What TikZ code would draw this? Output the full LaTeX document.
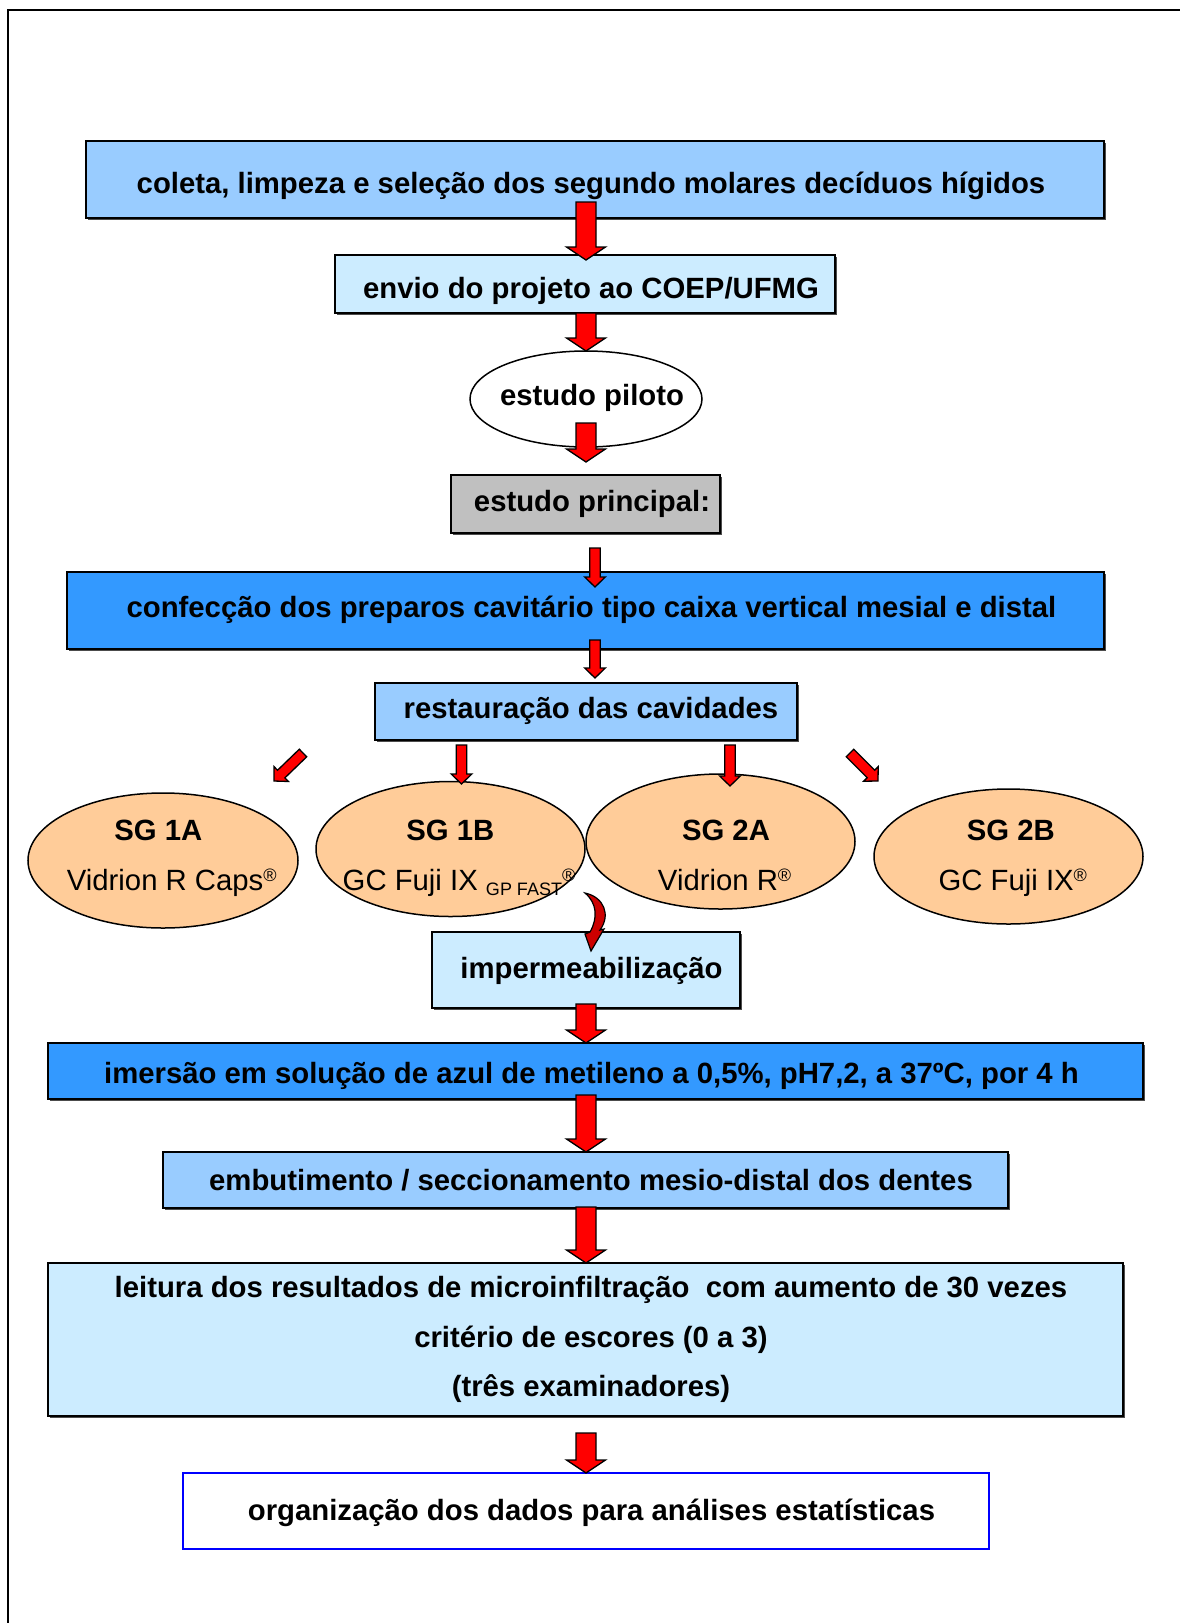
\documentclass[tikz,border=0pt]{standalone}
\usepackage{fontspec}
\setmainfont{Liberation Sans}
\usetikzlibrary{calc,shapes.geometric,shadows}
\definecolor{lblue}{HTML}{99CCFF}
\definecolor{pblue}{HTML}{CCECFF}
\definecolor{mblue}{HTML}{3399FF}
\definecolor{peach}{HTML}{FFCC99}
\definecolor{lgray}{HTML}{C0C0C0}
\definecolor{dred}{HTML}{CC0000}
\definecolor{pureblue}{HTML}{0000FF}
\newcommand\regmark{\raisebox{9pt}{\fontsize{18}{18}\selectfont ®}}
\newcommand\subfast{\raisebox{-5pt}{\fontsize{18}{18}\selectfont GP FAST}}
% block arrow: #1 start, #2 tip, #3 half shaft, #4 half head, #5 head length
\newcommand\blockarrow[5]{%
  \coordinate (bac) at ($(#2)!#5!(#1)$);
  \filldraw[arrowbody] ($(#1)!#3!90:(#2)$) -- ($(bac)!#3!90:(#2)$) -- ($(bac)!#4!90:(#2)$) -- (#2)
    -- ($(bac)!#4!-90:(#2)$) -- ($(bac)!#3!-90:(#2)$) -- ($(#1)!#3!-90:(#2)$) -- cycle;}
\newcommand\widearrow[2]{\blockarrow{#1}{#2}{10pt}{19.5pt}{13pt}}
\newcommand\thinarrow[2]{\blockarrow{#1}{#2}{5.3pt}{10.3pt}{10pt}}
\begin{document}
\begin{tikzpicture}[x=1pt,y=-1pt,
  box/.style={draw=black, line width=1.5pt, rectangle, inner sep=0pt, outer sep=0pt,
    drop shadow={shadow xshift=1.5pt, shadow yshift=-1.5pt, fill=black!70, opacity=1}},
  boxtext/.style={font=\fontsize{29.3}{49.5}\selectfont\bfseries, align=center, inner sep=0pt},
  oval/.style={draw=black, line width=1.5pt, ellipse, inner sep=0pt, outer sep=0pt},
  eltxt/.style={font=\fontsize{29.3}{35}\selectfont, anchor=base, inner sep=0pt},
  arrowbody/.style={fill=red, draw=black, line width=1.3pt, line join=miter}
]
\useasboundingbox (0,0) rectangle (1180,1623);
\draw[line width=1.5pt] (8,1623) -- (8,10) -- (1180,10);

% boxes
\node[box, fill=lblue, minimum width=1018pt, minimum height=77pt,
  label={[boxtext, xshift=-4pt, yshift=-6pt]center:{coleta, limpeza e seleção dos segundo molares decíduos hígidos}}] (b1) at (595,179.5) {};
\node[box, fill=pblue, minimum width=500pt, minimum height=58pt,
  label={[boxtext, xshift=6pt, yshift=-7pt]center:{envio do projeto ao COEP/UFMG}}] (b2) at (585,284) {};
\node[oval, fill=white, minimum width=232pt, minimum height=96pt,
  label={[boxtext, xshift=6pt, yshift=1pt]center:{estudo piloto}}] (pil) at (586,399) {};
\node[box, fill=lgray, minimum width=269pt, minimum height=58pt,
  label={[boxtext, xshift=6.5pt]center:{estudo principal:}}] (princ) at (585.5,504) {};
\node[box, fill=mblue, minimum width=1037pt, minimum height=77pt,
  label={[boxtext, xshift=6pt, yshift=1pt]center:{confecção dos preparos cavitário tipo caixa vertical mesial e distal}}] (conf) at (585.5,610.5) {};
\node[box, fill=lblue, minimum width=422pt, minimum height=57pt,
  label={[boxtext, xshift=5pt, yshift=1pt]center:{restauração das cavidades}}] (rest) at (586,711.5) {};

% ellipses
\node[oval, fill=peach, minimum width=270pt, minimum height=135pt] (sg1a) at (163,860.5) {};
\node[oval, fill=peach, minimum width=269pt, minimum height=135pt] (sg1b) at (450.5,849) {};
\node[oval, fill=peach, minimum width=269pt, minimum height=135pt] (sg2a) at (720.5,841.5) {};
\node[oval, fill=peach, minimum width=269pt, minimum height=135pt] (sg2b) at (1008.5,856.5) {};
\node[eltxt, font=\fontsize{29.3}{35}\selectfont\bfseries] (sg1a-t) at (158.4,840) {SG 1A};
\node[eltxt] (sg1a-m) at (171.8,890) {Vidrion R Caps\regmark};
\node[eltxt, font=\fontsize{29.3}{35}\selectfont\bfseries] (sg1b-t) at (450.3,840) {SG 1B};
\node[eltxt] (sg1b-m) at (459,890) {GC Fuji IX \subfast\regmark};
\node[eltxt, font=\fontsize{29.3}{35}\selectfont\bfseries] (sg2a-t) at (726,840) {SG 2A};
\node[eltxt] (sg2a-m) at (724.6,890) {Vidrion R\regmark};
\node[eltxt, font=\fontsize{29.3}{35}\selectfont\bfseries] (sg2b-t) at (1010.8,840) {SG 2B};
\node[eltxt] (sg2b-m) at (1012.8,890) {GC Fuji IX\regmark};

\node[box, fill=pblue, minimum width=308pt, minimum height=76pt,
  label={[boxtext, xshift=5.5pt, yshift=-1pt]center:{impermeabilização}}] (imp) at (586,970) {};
\node[box, fill=mblue, minimum width=1095pt, minimum height=56pt,
  label={[boxtext, xshift=-4pt, yshift=-5pt]center:{imersão em solução de azul de metileno a 0,5\%, pH7,2, a 37ºC, por 4 h}}] (imers) at (595.5,1071) {};
\node[box, fill=lblue, minimum width=845pt, minimum height=56pt,
  label={[boxtext, xshift=5.5pt]center:{embutimento / seccionamento mesio-distal dos dentes}}] (emb) at (585.5,1180) {};
\node[box, fill=pblue, minimum width=1075pt, minimum height=153pt,
  label={[boxtext, xshift=5.5pt]center:{leitura dos resultados de microinfiltração\ \ com aumento de 30 vezes\\critério de escores (0 a 3)\\(três examinadores)}}] (leit) at (585.5,1339.5) {};
\node[draw=pureblue, line width=2pt, rectangle, inner sep=0pt, fill=white,
  minimum width=806pt, minimum height=76pt,
  label={[boxtext, xshift=5.5pt, yshift=-2pt]center:{organização dos dados para análises estatísticas}}] (org) at (586,1511) {};

% arrow end points
\coordinate (a1s) at (586,202);  \coordinate (a1e) at (586,260);
\coordinate (a2s) at (586,313);  \coordinate (a2e) at (586,351);
\coordinate (a3s) at (586,423);  \coordinate (a3e) at (586,462);
\coordinate (a4s) at (595,548);  \coordinate (a4e) at (595,587);
\coordinate (a5s) at (595,640);  \coordinate (a5e) at (595,678);
\coordinate (d1s) at (303,753);  \coordinate (d1e) at (274,781);
\coordinate (v1s) at (461.5,745); \coordinate (v1e) at (461.5,784);
\coordinate (v2s) at (730,745);  \coordinate (v2e) at (730,786);
\coordinate (d2s) at (850,753);  \coordinate (d2e) at (878,781);
\coordinate (a6s) at (586,1004); \coordinate (a6e) at (586,1043);
\coordinate (a7s) at (586,1095); \coordinate (a7e) at (586,1152);
\coordinate (a8s) at (586,1207); \coordinate (a8e) at (586,1263);
\coordinate (a9s) at (586,1433); \coordinate (a9e) at (586,1473);

\widearrow{a1s}{a1e}
\widearrow{a2s}{a2e}
\widearrow{a3s}{a3e}
\thinarrow{a4s}{a4e}
\thinarrow{a5s}{a5e}
\thinarrow{d1s}{d1e}
\thinarrow{v1s}{v1e}
\thinarrow{v2s}{v2e}
\thinarrow{d2s}{d2e}
\widearrow{a6s}{a6e}
\widearrow{a7s}{a7e}
\widearrow{a8s}{a8e}
\widearrow{a9s}{a9e}

% curved arrow (tapered band with head)
\coordinate (cs) at (585,893);
\coordinate (ct) at (591,951);
\filldraw[fill=dred, draw=black, line width=1.2pt, line join=miter]
  (cs) .. controls (604,897) and (611,915) .. (600,930) -- (604,929) -- (ct) -- (585,934) -- (590,932)
  .. controls (598,918) and (597,903) .. (cs) -- cycle;
\end{tikzpicture}
\end{document}
